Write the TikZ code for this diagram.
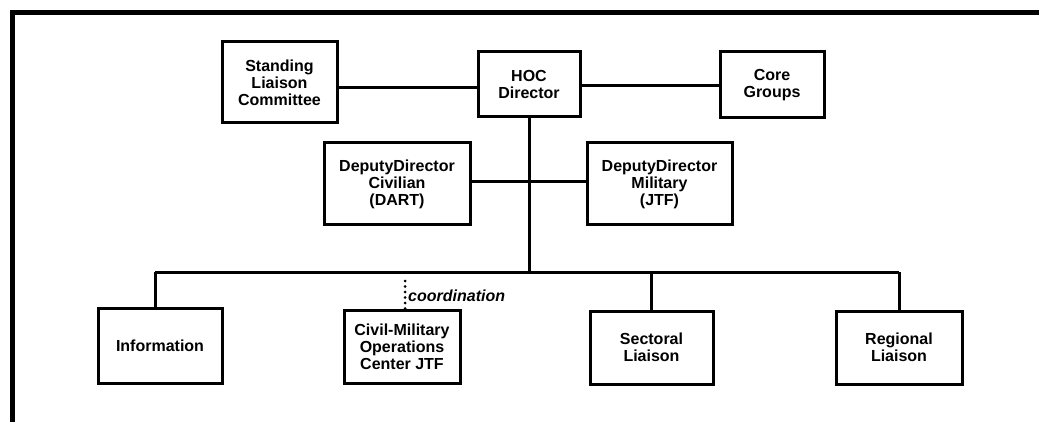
\documentclass[tikz,border=0pt]{standalone}
\usepackage{fontspec}
\setmainfont{Liberation Sans}
\begin{document}
\begin{tikzpicture}[x=1pt,y=-1pt,
  box/.style={draw,line width=3pt,rectangle,inner sep=0pt,align=center,
    font=\bfseries\fontsize{16}{17}\selectfont},
  conn/.style={line width=3pt},
  coordline/.style={line width=3pt,line cap=round,dash pattern=on 0pt off 5.5pt}]
\useasboundingbox (0,0) rectangle (1039,422);
\draw[line width=5pt] (12,422) -- (12,12.5) -- (1039,12.5);
\node[box,minimum width=115pt,minimum height=81pt] (slc) at (279.5,82.5) {Standing\\Liaison\\Committee};
\node[box,minimum width=102pt,minimum height=65pt] (hoc) at (529,84.5) {HOC\\Director};
\node[box,minimum width=104pt,minimum height=66pt] (core) at (772,85) {Core\\Groups};
\node[box,minimum width=146pt,minimum height=82pt] (dciv) at (397,184) {DeputyDirector\\Civilian\\(DART)};
\node[box,minimum width=145pt,minimum height=82pt] (dmil) at (659.5,184) {DeputyDirector\\Military\\(JTF)};
\node[box,minimum width=124pt,minimum height=75pt] (info) at (160,345.5) {Information};
\node[box,minimum width=116pt,minimum height=73pt] (cmoc) at (402,346.5) {Civil-Military\\Operations\\Center JTF};
\node[box,minimum width=123pt,minimum height=73pt] (sect) at (651.5,347.5) {Sectoral\\Liaison};
\node[box,minimum width=126pt,minimum height=73pt] (reg) at (899,347.5) {Regional\\Liaison};
\coordinate (busL) at (155,272);
\coordinate (busM) at (529,272);
\coordinate (busR) at (899,272);
\coordinate (ctop) at (405,281);
\draw[conn] (slc.east |- 0,88) -- (hoc.west |- 0,88);
\draw[conn] (hoc.east |- 0,86) -- (core.west |- 0,86);
\draw[conn] (hoc.south) -- (busM);
\draw[conn] (dciv.east |- 0,182) -- (dmil.west |- 0,182);
\draw[conn] (busL) -- (busR);
\draw[conn] (info.north -| busL) -- (busL);
\draw[conn] (sect.north) -- (sect.north |- busR);
\draw[conn] (reg.north) -- (busR);
\draw[coordline] (ctop) -- (cmoc.north -| ctop);
\node[anchor=west,inner sep=0pt,font=\bfseries\itshape\fontsize{16}{17}\selectfont] (coordlbl) at (408,296) {coordination};
\end{tikzpicture}
\end{document}
